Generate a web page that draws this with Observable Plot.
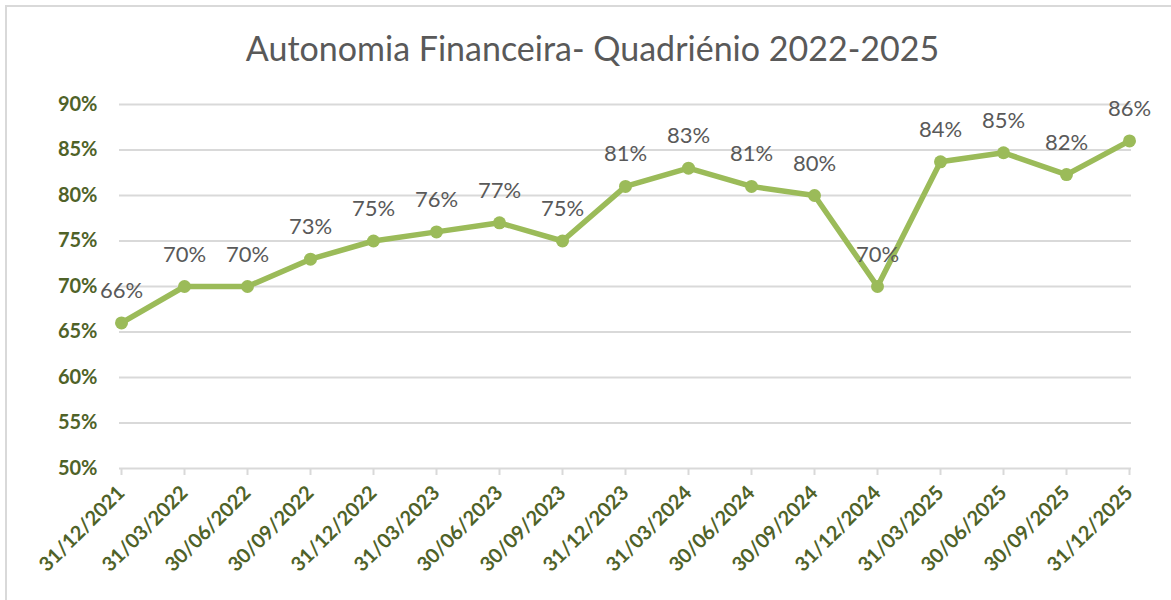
<!DOCTYPE html>
<html>
<head>
<meta charset="utf-8">
<script src="https://cdn.jsdelivr.net/npm/d3@7"></script>
<script src="https://cdn.jsdelivr.net/npm/@observablehq/plot@0.6"></script>
<style>
  html, body { margin: 0; padding: 0; background: #fff; overflow: hidden; }
  #wrap { position: relative; width: 1171px; height: 600px; }
  #frame { position: absolute; left: 5px; top: 5px; width: 1200px; height: 700px; border: 2px solid #d9d9d9; box-sizing: border-box; pointer-events: none; }
  #title { position: absolute; left: 0; top: 27px; width: 1185px; text-align: center; font-family: Lato, "Open Sans", sans-serif; font-size: 34px; color: #595959; }
  #chart { position: absolute; left: 0; top: 0; }
</style>
</head>
<body>
<div id="wrap">
  <div id="frame"></div>
  <div id="title">Autonomia Financeira- Quadriénio 2022-2025</div>
  <div id="chart"></div>
</div>
<script>
const dates = ["31/12/2021","31/03/2022","30/06/2022","30/09/2022","31/12/2022","31/03/2023","30/06/2023","30/09/2023","31/12/2023","31/03/2024","30/06/2024","30/09/2024","31/12/2024","31/03/2025","30/06/2025","30/09/2025","31/12/2025"];
const values = [66, 70, 70, 73, 75, 76, 77, 75, 81, 83, 81, 80, 70, 83.7, 84.7, 82.3, 86];
const yTicks = [50, 55, 60, 65, 70, 75, 80, 85, 90];

const data = dates.map((d, i) => ({date: d, value: values[i]}));

const chart = Plot.plot({
  width: 1171,
  height: 600,
  marginTop: 104,
  marginBottom: 132,
  marginLeft: 119,
  marginRight: 40,
  style: {background: "transparent", fontFamily: "Lato, 'Open Sans', sans-serif"},
  x: {type: "point", domain: dates, padding: 0},
  y: {domain: [50, 90]},
  marks: [
    Plot.ruleY(yTicks, {stroke: "#d9d9d9", strokeWidth: 2}),
    Plot.axisY({ticks: yTicks, tickSize: 0, tickPadding: 22, tickFormat: d => d + "%", fill: "#4F6228", fontWeight: "bold", fontSize: 20, label: null}),
    Plot.axisX({tickRotate: -45, tickSize: 7, tickPadding: 14, stroke: "#d9d9d9", strokeWidth: 2, strokeOpacity: 1, fill: "#4F6228", fontWeight: "bold", fontSize: 20, label: null}),
    Plot.line(data, {x: "date", y: "value", stroke: "#9BBB59", strokeWidth: 5.5}),
    Plot.dot(data, {x: "date", y: "value", r: 6.5, fill: "#9BBB59"}),
    Plot.text(data, {x: "date", y: "value", text: d => Math.round(d.value) + "%", dy: -32, fill: "#595959", fontSize: 22})
  ]
});
document.getElementById("chart").appendChild(chart);
</script>
</body>
</html>
